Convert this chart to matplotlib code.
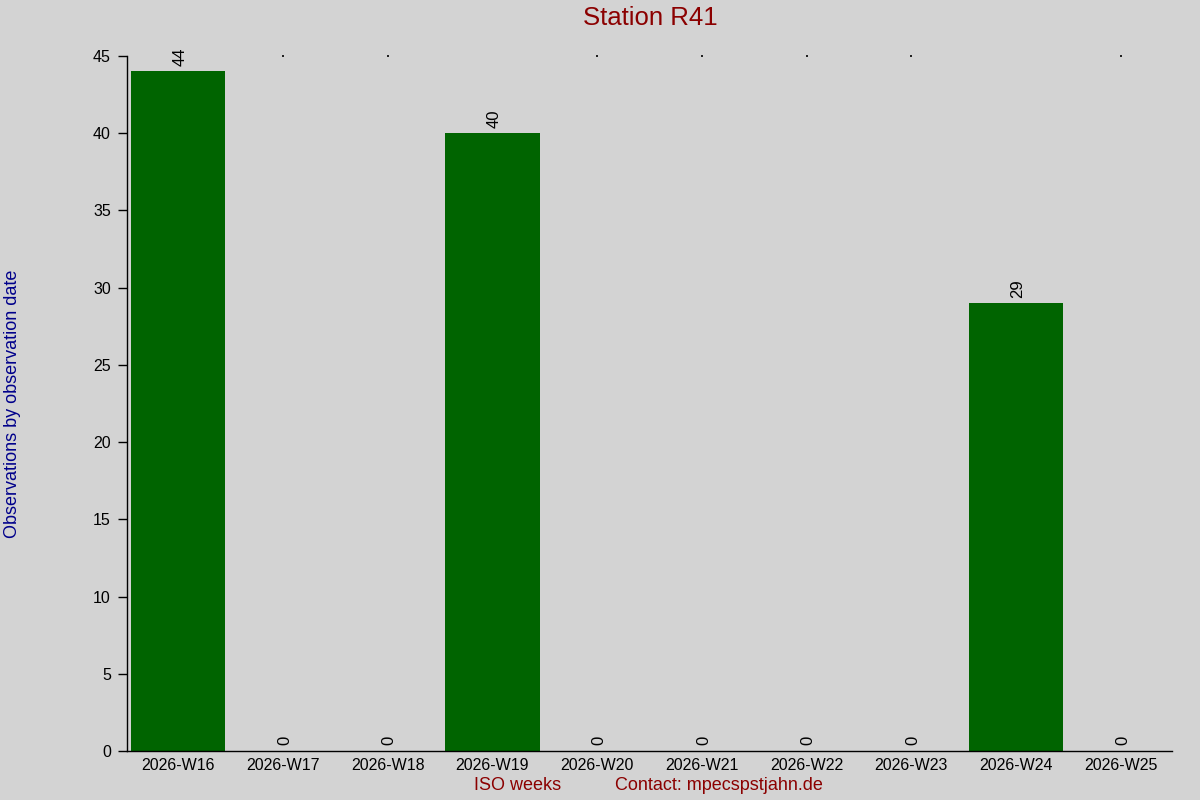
"""
Weekly observation counts for station R41 (ISO weeks).
"""

import matplotlib
matplotlib.use("Agg")
import matplotlib.pyplot as plt
import numpy as np


# ==========================================================
# Data
# ==========================================================

STATION = "R41"

weeks = [
    "2026-W16",
    "2026-W17",
    "2026-W18",
    "2026-W19",
    "2026-W20",
    "2026-W21",
    "2026-W22",
    "2026-W23",
    "2026-W24",
    "2026-W25",
]

counts = [44, 0, 0, 40, 0, 0, 0, 0, 29, 0]

y_ticks = [0, 5, 10, 15, 20, 25, 30, 35, 40, 45]


# ==========================================================
# Style
# ==========================================================

BG = "#d3d3d3"
BAR = "#006400"
TITLE_RED = "#8b0000"
LABEL_BLUE = "#00008b"

plt.rcParams["font.family"] = ["Liberation Sans", "DejaVu Sans"]


def main():

    fig = plt.figure(figsize=(12, 8), dpi=100, facecolor=BG)
    ax = fig.add_axes([0.1058, 0.06125, 0.8709, 0.86875])
    ax.set_facecolor(BG)

    x = np.arange(len(weeks))

    ax.bar(x, counts, width=0.9, color=BAR, edgecolor="none")

    for xi, value in zip(x, counts):
        ax.annotate(
            f"{value}",
            (xi, value),
            xytext=(1.2, 4),
            textcoords="offset points",
            ha="center",
            va="bottom",
            rotation=90,
            fontsize=12,
            color="black",
        )

    ymax = y_ticks[-1]

    # tiny marks along the top for empty weeks
    empty = [xi for xi, v in zip(x, counts) if v == 0]
    ax.scatter(empty, [ymax] * len(empty), s=1.2, color="#222222",
               marker="s", linewidths=0, clip_on=False, zorder=3)

    ax.set_xlim(-0.49, len(weeks) - 0.51)
    ax.set_ylim(0, ymax)

    ax.set_yticks(y_ticks)
    ax.set_xticks(x)
    ax.set_xticklabels(weeks)

    ax.tick_params(axis="y", length=6.5, width=1, pad=5, labelsize=11.5)
    ax.tick_params(axis="x", length=0, pad=5, labelsize=11.5)

    for side in ("top", "right"):
        ax.spines[side].set_visible(False)
    for side in ("left", "bottom"):
        ax.spines[side].set_linewidth(1)

    fig.text(
        0.5417, 0.977,
        f"Station {STATION}",
        ha="center",
        va="center",
        fontsize=18.5,
        color=TITLE_RED,
    )

    fig.text(
        0.0105, 0.495,
        "Observations by observation date",
        rotation=90,
        ha="center",
        va="center",
        fontsize=13,
        color=LABEL_BLUE,
    )

    fig.text(
        0.4317, 0.0175,
        "ISO weeks",
        ha="center",
        va="center",
        fontsize=13,
        color=TITLE_RED,
    )

    fig.text(
        0.5992, 0.0175,
        "Contact: mpecspstjahn.de",
        ha="center",
        va="center",
        fontsize=13,
        color=TITLE_RED,
    )

    fig.savefig("out.png", dpi=100, facecolor=BG)
    plt.close(fig)


if __name__ == "__main__":
    main()
